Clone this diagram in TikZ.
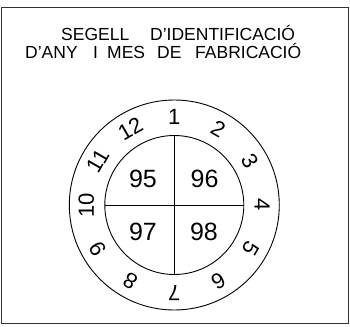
\documentclass[tikz,border=0pt]{standalone}
\usepackage{fontspec}
\setmainfont{Liberation Sans}
\usetikzlibrary{calc}
\begin{document}
\begin{tikzpicture}[x=1pt,y=-1pt,
  line/.style={draw=black,line width=0.9pt},
  title/.style={anchor=base west,inner sep=0pt,font=\fontsize{17.5}{20}\selectfont},
  month/.style={inner sep=0pt,font=\fontsize{22}{24}\selectfont},
  year/.style={inner sep=0pt,font=\fontsize{25}{28}\selectfont}]
\useasboundingbox (0,0) rectangle (350,326);
\draw[line,draw=black!80] (1.5,7.5) rectangle (348.5,323);
\node[title] (t1) at (61,41) {\makebox[89pt][l]{SEGELL}D'IDENTIFICACIÓ};
\node[title] (t2) at (25,59) {\makebox[68pt][l]{D'ANY}\makebox[14pt][l]{I}\makebox[50pt][l]{MES}\makebox[38pt][l]{DE}FABRICACIÓ};
\coordinate (c) at (174.3,205);
\draw[line] (c) circle[radius=105];
\draw[line] (c) circle[radius=69.5];
\draw[line] ([yshift=-69.5]c) -- ([yshift=69.5]c);
\draw[line] ([xshift=-69.5]c) -- ([xshift=69.5]c);
\foreach \k in {1,...,12}{
  \pgfmathsetmacro{\ang}{30*(\k-1)-90}
  \pgfmathsetmacro{\rot}{-30*(\k-1)}
  \node[month,rotate=\rot] (m\k) at ($(c)+(\ang:88)$) {\k};
}
\node[year] (y95) at (143,179) {95};
\node[year] (y96) at (204.5,179) {96};
\node[year] (y97) at (143,232) {97};
\node[year] (y98) at (204,232) {98};
\end{tikzpicture}
\end{document}
